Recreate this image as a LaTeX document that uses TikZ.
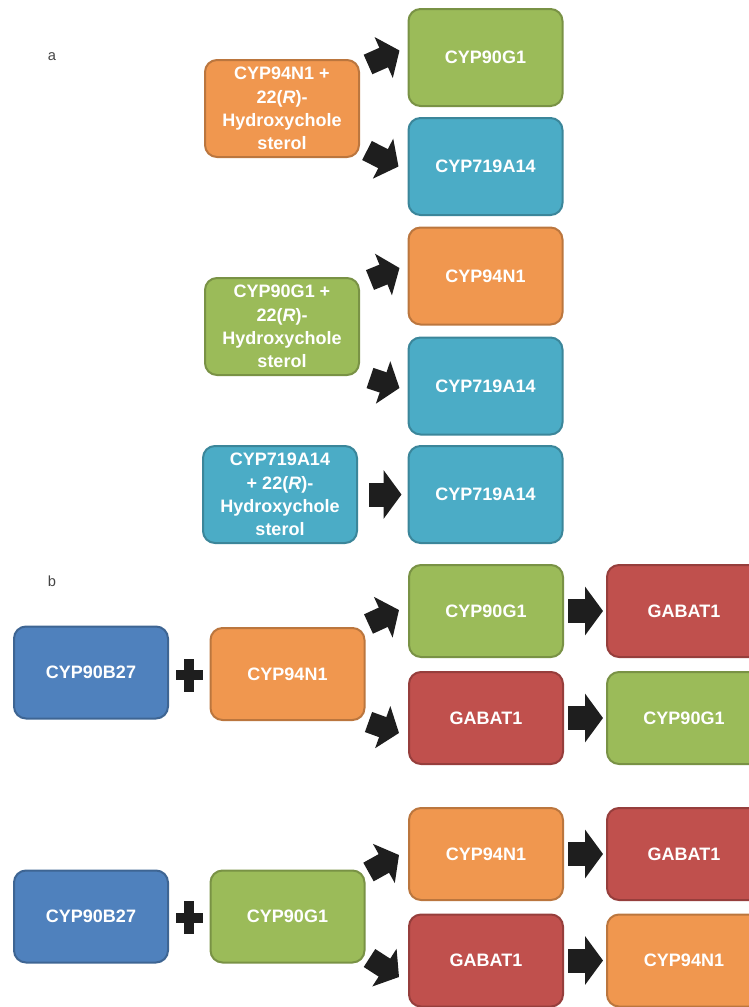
\documentclass[tikz,border=0pt]{standalone}
\usepackage{fontspec}
\setmainfont{Liberation Sans}
\usetikzlibrary{arrows.meta,calc}
\definecolor{corange}{HTML}{F0974F}
\definecolor{cgreen}{HTML}{9BBB59}
\definecolor{cteal}{HTML}{4BACC6}
\definecolor{cblue}{HTML}{4F81BD}
\definecolor{cred}{HTML}{C0504D}
\definecolor{arrowc}{HTML}{1E1E1E}
\definecolor{labc}{HTML}{444444}
\begin{document}
\begin{tikzpicture}[x=0.75pt,y=-0.75pt,
  box/.style={rounded corners=9pt, draw=#1!78!black, fill=#1, line width=1.5pt,
    text=white, font=\fontsize{13.5}{17.5}\selectfont\bfseries, align=center,
    minimum width=115.5pt, minimum height=72.75pt, inner sep=0pt},
  boxb/.style={box=#1, minimum height=69pt},
  barrow/.style={draw=arrowc, line width=18pt, -{Triangle[length=13.5pt,width=36pt]}},
  bent/.style={draw=arrowc, line width=16pt, -{Triangle[length=13pt,width=33pt]}},
  panel/.style={text=labc, font=\fontsize{11}{13}\selectfont},
  plusbar/.style={fill=arrowc}
]
\useasboundingbox (0,0) rectangle (749,1007);
\clip (0,0) rectangle (749,1007);

% panel labels
\node[panel] (la) at (52,57) {a};
\node[panel] (lb) at (52,581) {b};

% ---- panel a
\node[box=corange] (a1) at (282,108.5) {CYP94N1 +\\22(\textit{R})-\\Hydroxychole\\sterol};
\node[box=cgreen] (g1) at (485.5,57.5) {CYP90G1};
\node[box=cteal] (t1) at (485.5,166.5) {CYP719A14};

\node[box=corange] (o2) at (485.5,276) {CYP94N1};
\node[box=cgreen] (a2) at (282,326.5) {CYP90G1 +\\22(\textit{R})-\\Hydroxychole\\sterol};
\node[box=cteal] (t2) at (485.5,386) {CYP719A14};

\node[box=cteal] (a3) at (280,494.5) {CYP719A14\\+ 22(\textit{R})-\\Hydroxychole\\sterol};
\node[box=cteal] (t3) at (485.5,494.5) {CYP719A14};

\draw[bent] ($(a1.east)+(8,-44)$) -- ($(g1.west)+(-8,-7)$);
\draw[bent] ($(a1.east)+(7,42)$) -- ($(t1.west)+(-9,0)$);
\draw[bent] ($(a2.east)+(10,-46.5)$) -- ($(o2.west)+(-8,-8)$);
\draw[bent] ($(a2.east)+(10,51.5)$) -- ($(t2.west)+(-8,2)$);
\draw[barrow] ($(a3.east)+(11,0)$) -- ($(t3.west)+(-6,0)$);

% ---- panel b, group 1
\node[boxb=cblue] (b1) at (91,672.5) {CYP90B27};
\node[boxb=corange] (n1) at (287.5,674) {CYP94N1};
\node[boxb=cgreen] (g2) at (486,611) {CYP90G1};
\node[boxb=cred] (r1) at (684,611) {GABAT1};
\node[boxb=cred] (r2) at (486,718) {GABAT1};
\node[boxb=cgreen] (g3) at (684,718) {CYP90G1};

\coordinate (p1) at ($(b1.east)!0.5!(n1.west)+(0,2)$);
\fill[plusbar] ($(p1)+(-13.5,-5)$) rectangle ($(p1)+(13.5,5)$);
\fill[plusbar] ($(p1)+(-5,-16.5)$) rectangle ($(p1)+(5,16.5)$);

\draw[bent] ($(n1.east)+(3,-50)$) -- ($(g2.west)+(-9,-1)$);
\draw[bent] ($(n1.east)+(3,48)$) -- ($(r2.west)+(-9,15)$);
\draw[barrow] ($(g2.east)+(4,0)$) -- ($(r1.west)+(-3,0)$);
\draw[barrow] ($(r2.east)+(4,0)$) -- ($(g3.west)+(-3,0)$);

% ---- panel b, group 2
\node[boxb=cblue] (b2) at (91,916.5) {CYP90B27};
\node[boxb=cgreen] (g4) at (287.5,916.5) {CYP90G1};
\node[boxb=corange] (o3) at (486,854) {CYP94N1};
\node[boxb=cred] (r3) at (684,854) {GABAT1};
\node[boxb=cred] (r4) at (486,960.5) {GABAT1};
\node[boxb=corange] (o4) at (684,960.5) {CYP94N1};

\coordinate (p2) at ($(b2.east)!0.5!(g4.west)+(0,1)$);
\fill[plusbar] ($(p2)+(-13.5,-5)$) rectangle ($(p2)+(13.5,5)$);
\fill[plusbar] ($(p2)+(-5,-16.5)$) rectangle ($(p2)+(5,16.5)$);

\draw[bent] ($(g4.east)+(3,-44.5)$) -- ($(o3.west)+(-9,1)$);
\draw[bent] ($(g4.east)+(4,41.5)$) -- ($(r4.west)+(-9,16.5)$);
\draw[barrow] ($(o3.east)+(4,0)$) -- ($(r3.west)+(-3,0)$);
\draw[barrow] ($(r4.east)+(4,0)$) -- ($(o4.west)+(-3,0)$);
\end{tikzpicture}
\end{document}
